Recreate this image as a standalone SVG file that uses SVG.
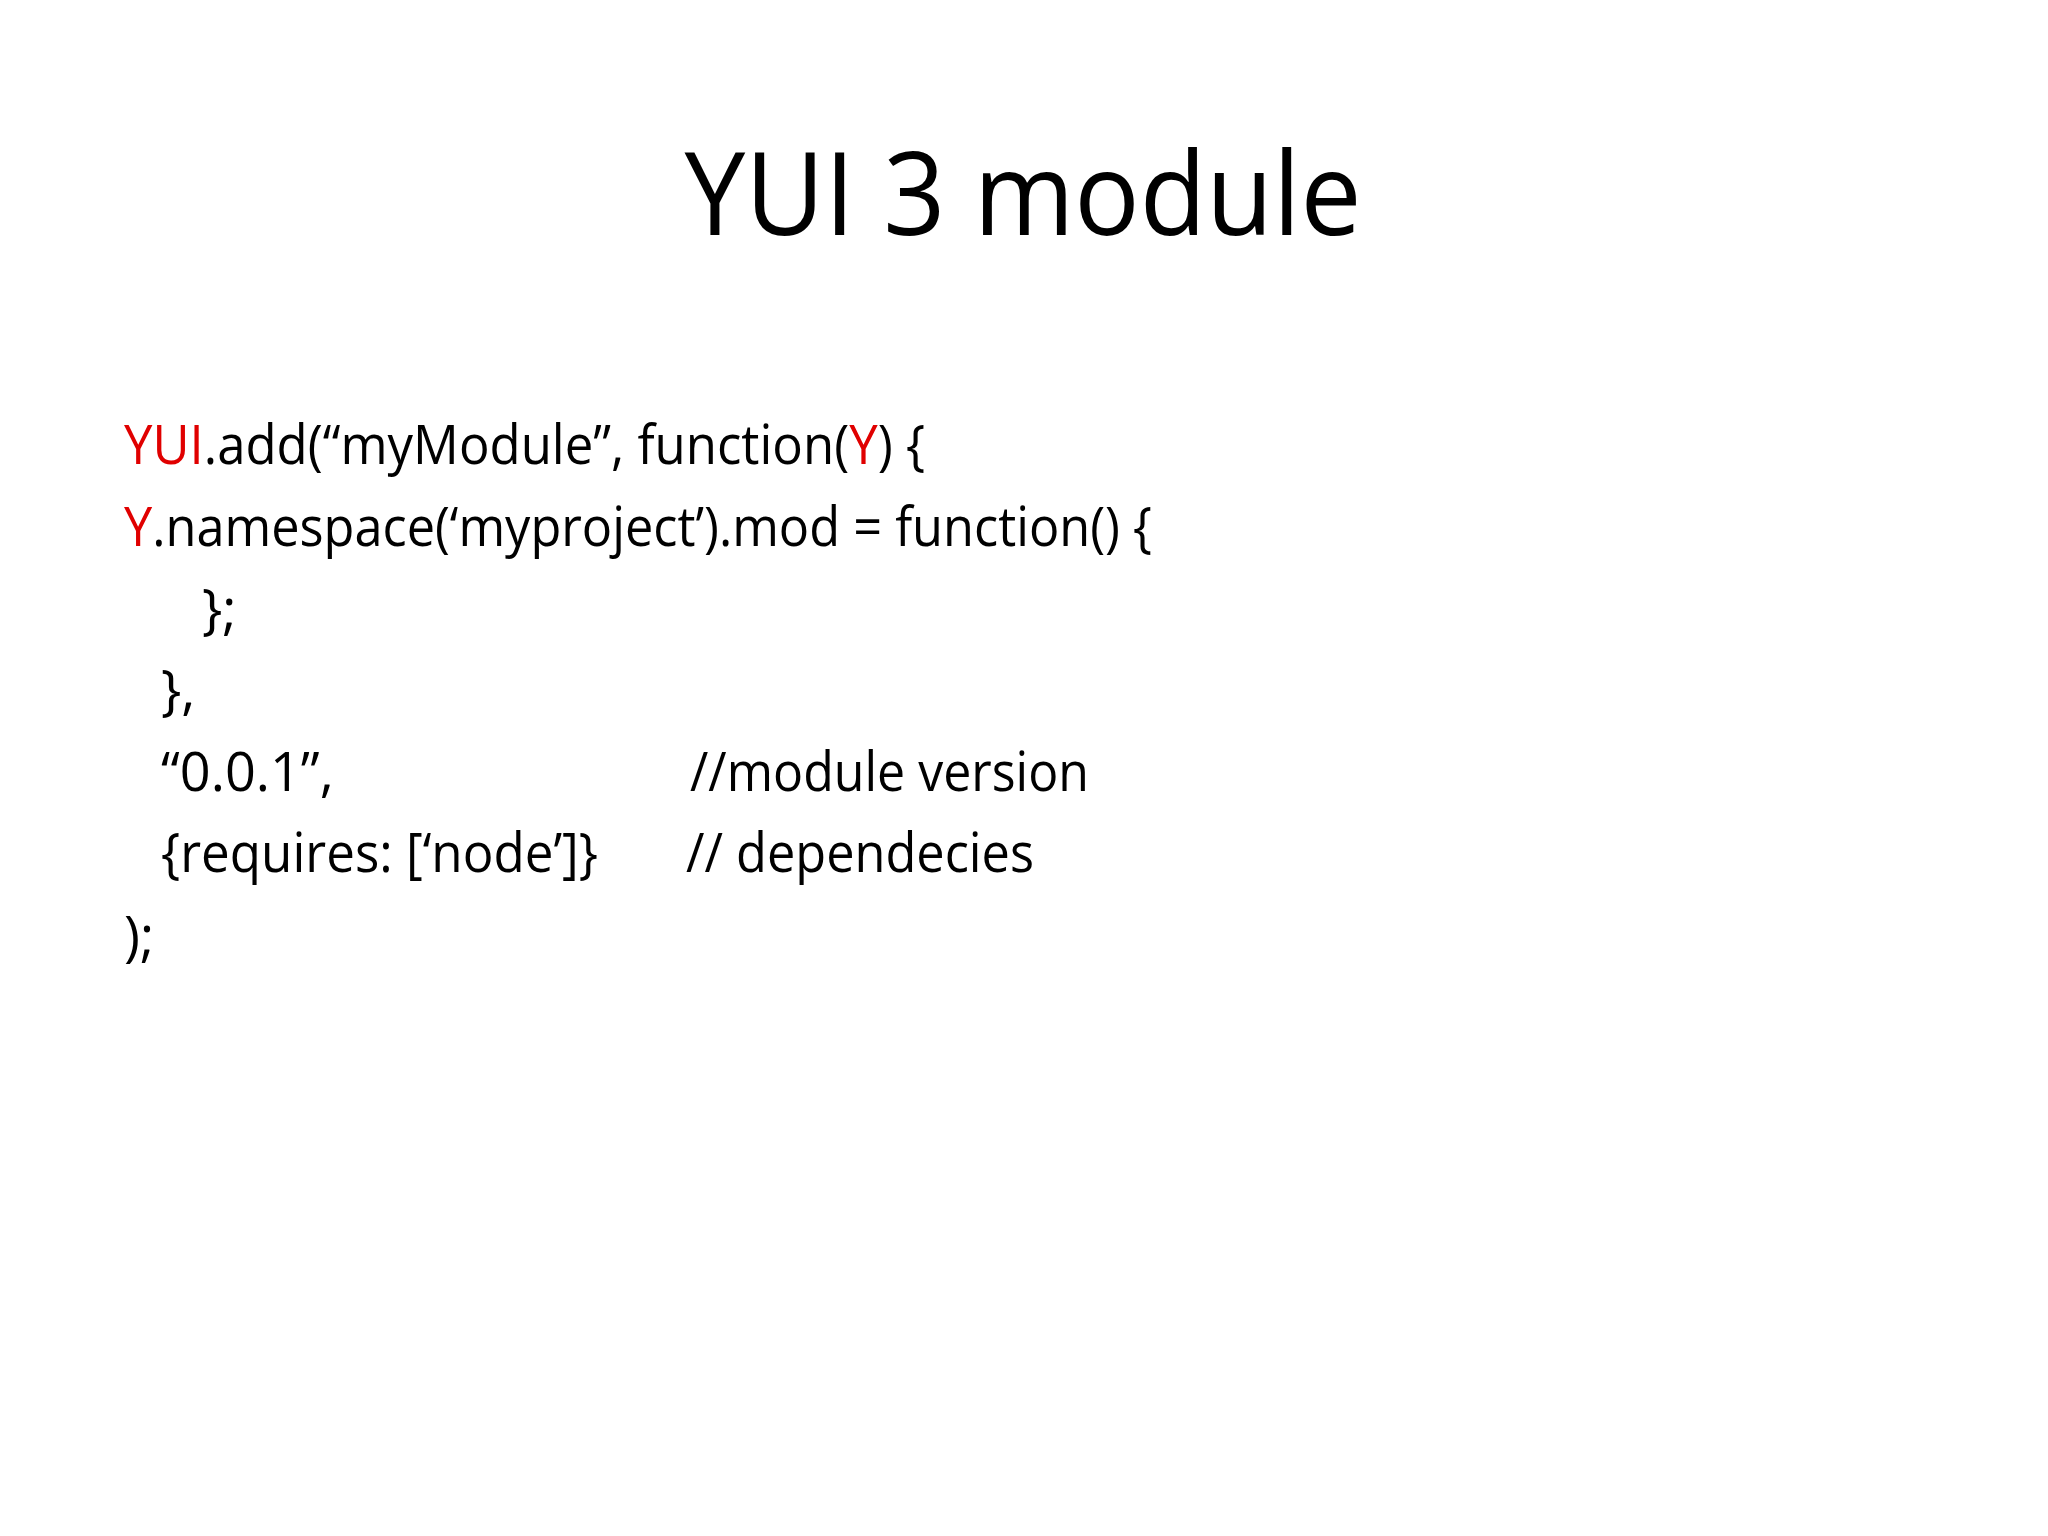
<svg xmlns="http://www.w3.org/2000/svg" width="2048" height="1536" viewBox="0 0 2048 1536">
<style>
text{font-family:"Open Sans","Liberation Sans",sans-serif;fill:#000}
.c{font-size:54px}
.r{fill:#e00000}
</style>
<rect width="2048" height="1536" fill="#fff"/>
<g id="title"><text x="1023" y="235" font-size="116" text-anchor="middle" textLength="677" lengthAdjust="spacingAndGlyphs">YUI 3 module</text></g>
<g id="code">
<text class="c" x="124" y="464" textLength="801" lengthAdjust="spacingAndGlyphs"><tspan class="r">YUI</tspan>.add(“myModule”, function(<tspan class="r">Y</tspan>) {</text>
<text class="c" x="124" y="546" textLength="1028" lengthAdjust="spacingAndGlyphs"><tspan class="r">Y</tspan>.namespace(‘myproject’).mod = function() {</text>
<text class="c" x="202" y="628">};</text>
<text class="c" x="161" y="709">},</text>
<text class="c" x="161" y="791">“0.0.1”,</text>
<text class="c" x="690" y="791" textLength="399" lengthAdjust="spacingAndGlyphs">//module version</text>
<text class="c" x="161" y="872" textLength="437" lengthAdjust="spacingAndGlyphs">{requires: [‘node’]}</text>
<text class="c" x="686" y="872" textLength="348" lengthAdjust="spacingAndGlyphs">// dependecies</text>
<text class="c" x="124" y="955">);</text>
</g>
</svg>
